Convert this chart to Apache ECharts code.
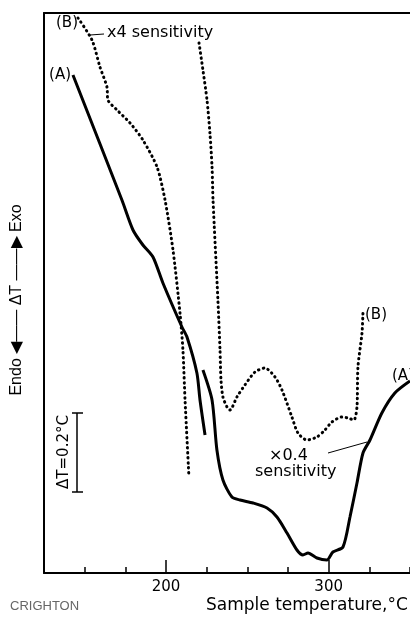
<!DOCTYPE html>
<html>
<head>
<meta charset="utf-8">
<script src="https://cdn.jsdelivr.net/npm/echarts@6/dist/echarts.min.js"></script>
<style>
  html, body { margin: 0; padding: 0; background: #fff; }
  #chart { width: 410px; height: 623px; }
</style>
</head>
<body>
<div id="chart"></div>
<script>
// temperature (°C) vs. ΔT (arbitrary chart units)
var curveA1 = [
  [142.8, 49.8], [172.9, 37.3], [179.7, 34.3], [185.8, 32.8], [192.0, 31.6],
  [198.1, 29.0], [209.8, 24.6], [212.9, 23.6], [219.0, 20.0], [220.9, 17.3], [224.0, 13.8]
];
var curveA2 = [
  [222.7, 20.3], [228.3, 17.3], [231.3, 12.3], [235.0, 9.3], [240.5, 7.6], [245.5, 7.3],
  [253.5, 7.0], [262.1, 6.5], [268.2, 5.6], [274.4, 4.0], [280.5, 2.3], [284.2, 1.8],
  [287.3, 2.0], [292.8, 1.5], [298.9, 1.3], [302.6, 2.1], [308.8, 2.6], [313.1, 5.6],
  [317.4, 9.0], [321.1, 12.0], [325.4, 13.3], [332.7, 16.0], [340.7, 18.0], [350.0, 19.2]
];
var curveB1 = [
  [145.9, 55.5], [154.5, 53.3], [159.4, 50.6], [163.7, 48.6], [164.3, 47.3], [169.9, 46.3],
  [177.9, 45.0], [185.8, 43.3], [194.5, 40.6], [199.4, 37.3], [204.3, 32.3], [208.6, 26.0],
  [210.4, 22.3], [211.7, 17.3], [214.1, 9.6]
];
var curveB2 = [
  [220.3, 53.0], [222.7, 50.3], [225.2, 47.3], [227.0, 44.0], [228.3, 40.6], [228.9, 37.3],
  [231.9, 27.3], [233.2, 22.3], [233.8, 19.3], [235.0, 17.6], [237.5, 16.6], [239.3, 16.3],
  [243.6, 17.6], [248.5, 18.8], [254.7, 20.1], [260.8, 20.5], [267.0, 19.6], [271.3, 18.3],
  [277.4, 15.6], [281.1, 14.0], [286.6, 13.3], [292.8, 13.6], [297.7, 14.3], [302.0, 15.1],
  [308.2, 15.6], [311.8, 15.5], [315.5, 15.3], [317.4, 16.6], [318.0, 20.6], [320.5, 24.0],
  [321.1, 26.1]
];
var tempLabels = [200, 300];
var tempMin = 125, tempMax = 350, tempStep = 25;

var font = '"DejaVu Sans", sans-serif';
var narrow = '"Liberation Sans", Arial, sans-serif';
var chart = echarts.init(document.getElementById('chart'));

function solid(data) {
  return {
    type: 'line', data: data, smooth: 0.25, symbol: 'none', silent: true,
    lineStyle: { color: '#000', width: 3 }
  };
}
function dotted(data) {
  return {
    type: 'line', data: data, smooth: 0.25, symbol: 'none', silent: true,
    lineStyle: { color: '#000', width: 3, type: [0.5, 4.5], cap: 'round' }
  };
}
function txt(x, y, s, size, extra) {
  var o = {
    type: 'text', x: x, y: y, silent: true,
    style: { text: s, font: size + 'px ' + font, fill: '#000', align: 'left', verticalAlign: 'middle' }
  };
  for (var k in extra) o.style[k] = extra[k];
  return o;
}
function seg(x1, y1, x2, y2, w) {
  return {
    type: 'line', silent: true,
    shape: { x1: x1, y1: y1, x2: x2, y2: y2 },
    style: { stroke: '#000', lineWidth: w || 1 }
  };
}

var option = {
  animation: false,
  backgroundColor: '#fff',
  grid: { left: 44, right: 0, top: 13, bottom: 50 },
  xAxis: [
    {
      type: 'value', min: tempMin, max: tempMax, interval: tempStep, position: 'bottom',
      axisLine: { lineStyle: { color: '#000', width: 2 } },
      axisTick: { inside: true, length: 6, lineStyle: { color: '#000', width: 1.5 } },
      axisLabel: { customValues: tempLabels, color: '#000', fontSize: 15, fontFamily: font, margin: 7 },
      splitLine: { show: false }
    },
    {
      type: 'value', min: tempMin, max: tempMax, position: 'bottom',
      axisLine: { show: false },
      axisTick: { inside: true, length: 13, customValues: tempLabels, lineStyle: { color: '#000', width: 1.5 } },
      axisLabel: { show: false },
      splitLine: { show: false }
    },
    {
      type: 'value', min: tempMin, max: tempMax, position: 'top',
      axisLine: { lineStyle: { color: '#000', width: 2 } },
      axisTick: { show: false }, axisLabel: { show: false }, splitLine: { show: false }
    }
  ],
  yAxis: {
    type: 'value', min: 0, max: 56,
    axisLine: { show: true, lineStyle: { color: '#000', width: 2 } },
    axisTick: { show: false }, axisLabel: { show: false }, splitLine: { show: false }
  },
  series: [solid(curveA1), solid(curveA2), dotted(curveB1), dotted(curveB2)],
  graphic: [
    txt(56, 23, '(B)', 15),
    seg(90, 35, 104, 34, 1),
    txt(107, 33, 'x4 sensitivity', 16),
    txt(71, 75, '(A)', 15, { align: 'right' }),
    txt(365, 315, '(B)', 15),
    txt(392, 376, '(A)', 15),
    txt(269, 456, '×0.4', 16),
    txt(255, 472, 'sensitivity', 16),
    seg(328, 453, 367, 442, 1),
    {
      type: 'text', x: 17, y: 300, rotation: Math.PI / 2, silent: true,
      style: { text: 'Endo ◀—— ΔT ——▶ Exo', font: '16px ' + narrow, fill: '#000', align: 'center', verticalAlign: 'middle' }
    },
    seg(77, 413, 77, 492, 1.5),
    seg(72, 413, 83, 413, 1.5),
    seg(72, 492, 83, 492, 1.5),
    {
      type: 'text', x: 64, y: 452, rotation: Math.PI / 2, silent: true,
      style: { text: 'ΔT=0.2°C', font: '15px ' + font, fill: '#000', align: 'center', verticalAlign: 'middle' }
    },
    txt(206, 606, 'Sample temperature,°C', 17),
    txt(10, 606, 'CRIGHTON', 13, { fill: '#666', font: '13px ' + narrow })
  ]
};
chart.setOption(option);
</script>
</body>
</html>
